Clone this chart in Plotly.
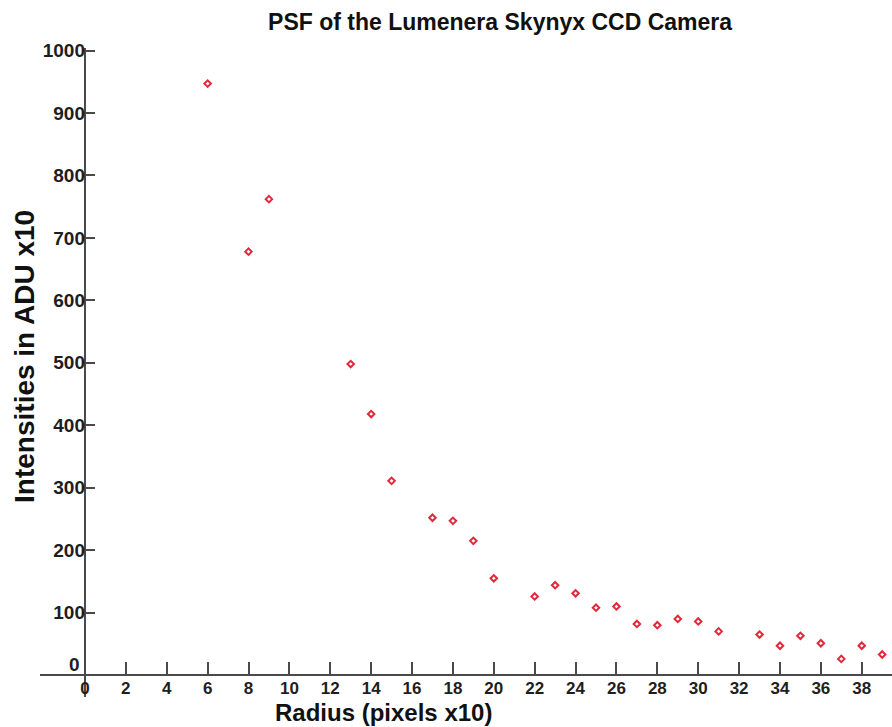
import plotly.graph_objects as go

# Radial PSF profile: radius (pixels x10) vs intensity (ADU x10)
radius = [6, 8, 9, 13, 14, 15, 17, 18, 19, 20, 22, 23, 24, 25, 26, 27, 28, 29,
          30, 31, 33, 34, 35, 36, 37, 38, 39]
intensity = [947, 678, 762, 498, 418, 311, 252, 247, 215, 155, 126, 144, 131,
             108, 110, 82, 80, 90, 86, 70, 65, 47, 63, 51, 26, 47, 33]

x_ticks = list(range(0, 39, 2))
y_ticks = list(range(100, 1001, 100))

x_range = [-2.2, 39.48]
y_range = [-35, 1004]

# Axes cross at the origin, so place each free axis where the other's zero lies
x_axis_pos = (0 - y_range[0]) / (y_range[1] - y_range[0])
y_axis_pos = (0 - x_range[0]) / (x_range[1] - x_range[0])

FONT = "Liberation Sans, Arial, sans-serif"
AXIS_COLOR = "#4a4a4a"
TEXT_COLOR = "#1e1e1e"

fig = go.Figure()
fig.add_trace(go.Scatter(
    x=radius, y=intensity, mode="markers",
    marker=dict(symbol="diamond-open", size=5, color="#e2283a",
                line=dict(width=2, color="#e2283a")),
    showlegend=False, hoverinfo="x+y",
))

fig.update_layout(
    width=892, height=727,
    margin=dict(l=40, r=0, t=48, b=30),
    paper_bgcolor="white", plot_bgcolor="white",
    font=dict(family=FONT, color=TEXT_COLOR),
    title=dict(text="PSF of the Lumenera Skynyx CCD Camera",
               x=0.54, xanchor="center", xref="paper",
               y=1 - 22 / 727, yanchor="middle", yref="container",
               font=dict(size=23, family=FONT, weight="bold", color="#111")),
    xaxis=dict(
        range=x_range, anchor="free", position=x_axis_pos,
        showgrid=False,
        # vertical line through x = 0 serves as the y axis line
        zeroline=True, zerolinecolor=AXIS_COLOR, zerolinewidth=2,
        showline=True, linecolor=AXIS_COLOR, linewidth=2,
        tickmode="array", tickvals=x_ticks, ticktext=[str(v) for v in x_ticks],
        ticks="inside", ticklen=12, tickwidth=2, tickcolor=AXIS_COLOR,
        ticklabelstandoff=-3,
        tickfont=dict(size=17, family=FONT, weight="bold", color=TEXT_COLOR),
    ),
    yaxis=dict(
        range=y_range, anchor="free", position=y_axis_pos,
        showgrid=False, zeroline=False,
        showline=False,
        tickmode="array", tickvals=y_ticks, ticktext=[str(v) for v in y_ticks],
        ticks="inside", ticklen=9, tickwidth=2, tickcolor=AXIS_COLOR,
        tickfont=dict(size=19, family=FONT, weight="bold", color=TEXT_COLOR),
    ),
    annotations=[
        # zero label on the y axis, lifted above the x axis line
        dict(x=0, y=0, xref="x", yref="y", text="0", showarrow=False,
             xanchor="right", yanchor="middle", xshift=-3, yshift=11,
             font=dict(size=19, family=FONT, weight="bold", color=TEXT_COLOR)),
        dict(x=(383 - 40) / 852, y=-0.0462, xref="paper", yref="paper",
             text="Radius (pixels x10)", showarrow=False,
             xanchor="center", yanchor="bottom", borderpad=0,
             font=dict(size=24, family=FONT, weight="bold", color="#111")),
        dict(x=-0.0176, y=0.524, xref="paper", yref="paper",
             text="Intensities in ADU x10", showarrow=False, textangle=-90,
             xanchor="center", yanchor="middle",
             font=dict(size=28, family=FONT, weight="bold", color="#111")),
    ],
)

fig.write_html("out.html")
